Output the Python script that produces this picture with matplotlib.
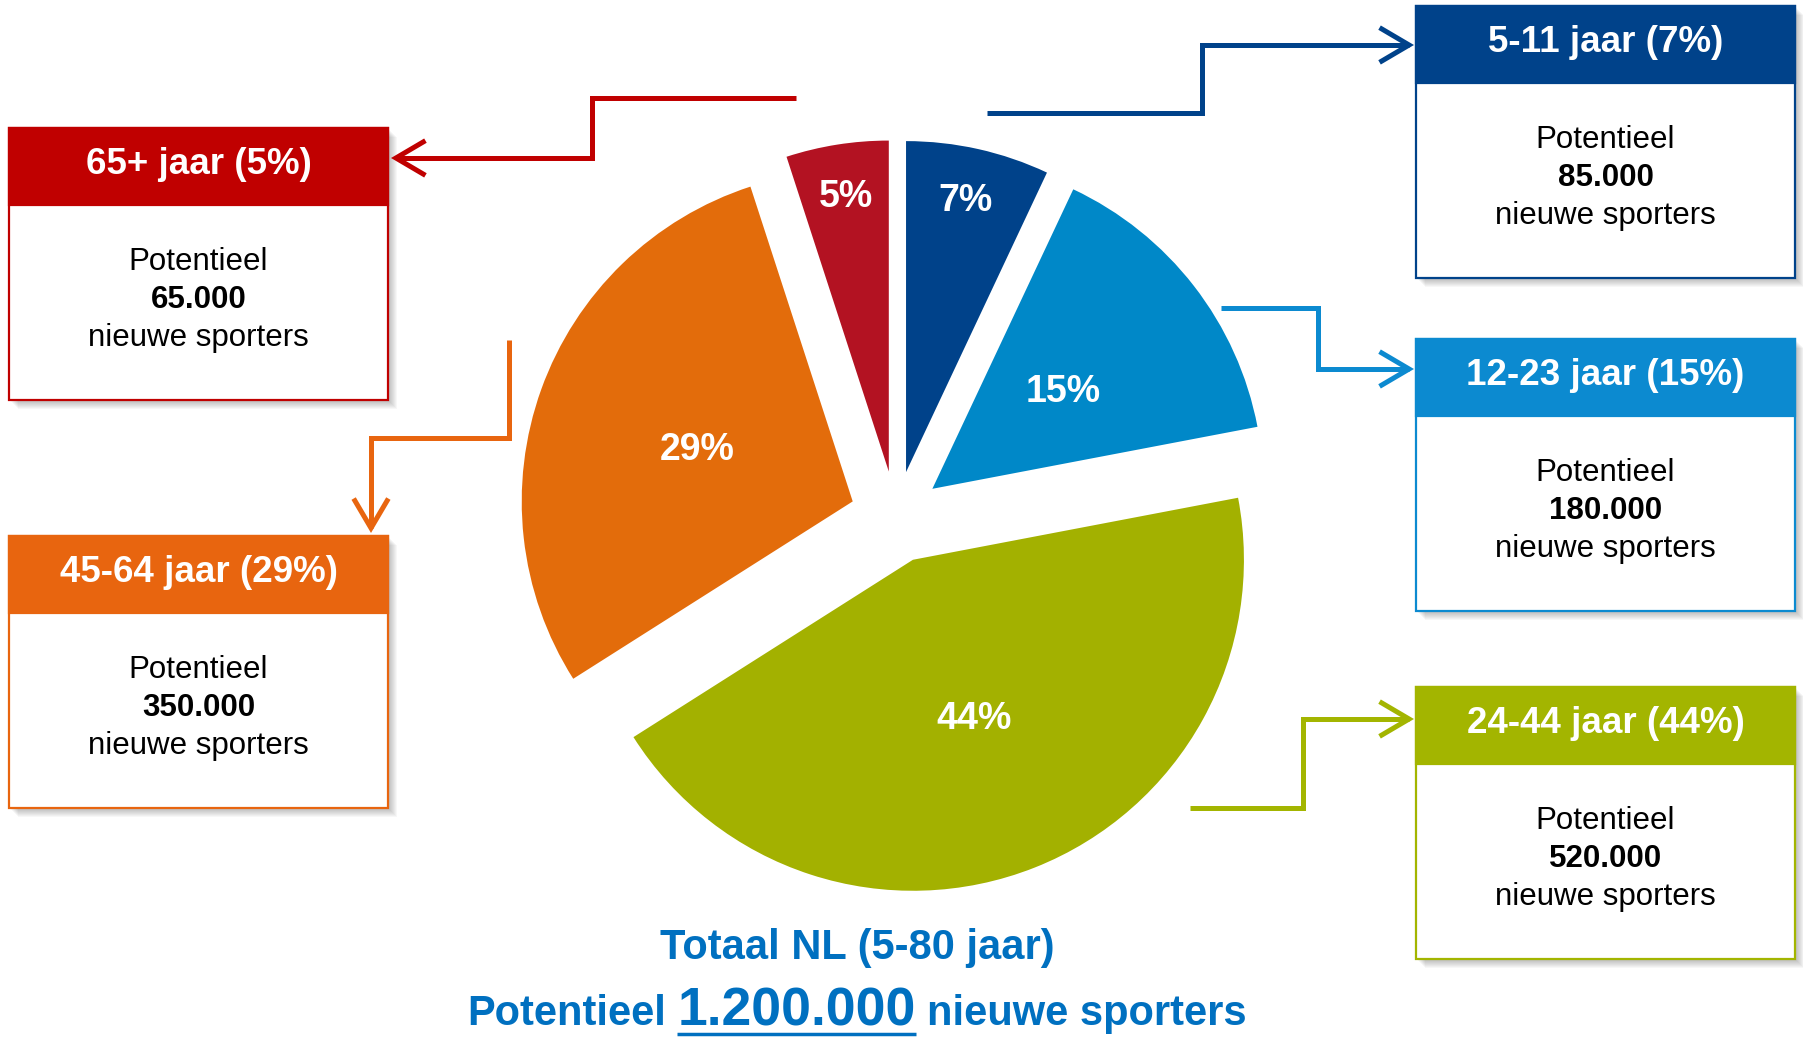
import numpy as np
import matplotlib.pyplot as plt
from matplotlib.patches import Rectangle, FancyArrowPatch, ArrowStyle
from matplotlib.path import Path

plt.rcParams['font.family'] = ['Liberation Sans', 'DejaVu Sans']

# data (clockwise from 12 o'clock)
groups = ['5-11', '12-23', '24-44', '45-64', '65+']
shares = [7, 15, 44, 29, 5]
potential = [85000, 180000, 520000, 350000, 65000]
total_potential = 1200000
title = 'Totaal NL (5-80 jaar)'

pie_colors = ['#00428A', '#0088C8', '#A3B100', '#E36C0B', '#B31222']
head_colors = ['#00428A', '#0C8AD0', '#A3B500', '#E8650F', '#C00000']
blue_txt = '#0070C0'

W, H = 1803, 1037
fig = plt.figure(figsize=(W / 100, H / 100), dpi=100)
ax = fig.add_axes([0, 0, 1, 1])


def Y(y):
    # layout measured top-down, axes run bottom-up
    return H - y


def nl(v):
    return f'{v:,}'.replace(',', '.')


# pie
R = 331
wedges, _ = ax.pie(shares, colors=pie_colors, startangle=90, counterclock=False,
                   radius=R, center=(896, Y(517)), explode=[46] * len(shares),
                   wedgeprops=dict(linewidth=0), frame=True)
for w, s in zip(wedges, shares):
    th = np.deg2rad((w.theta1 + w.theta2) / 2)
    # small slices get their label further out
    d, dy = (0.83, 3) if s < 10 else (0.5, -5)
    cx, cy = w.center
    ax.text(cx + d * R * np.cos(th), cy + d * R * np.sin(th) + dy, f'{s}%',
            color='white', fontsize=27, fontweight='bold', ha='center', va='center')

# info boxes (left, top) in pixels from top-left
box_pos = [(1416, 6), (1416, 339), (1416, 687), (9, 536), (9, 128)]
bw, bh, hh = 379, 272, 77

for g, s, p, (x0, t0), hc in zip(groups, shares, potential, box_pos, head_colors):
    for k in range(2, 10):
        ax.add_patch(Rectangle((x0 + k, Y(t0 + bh) - k), bw, bh, facecolor='black',
                               edgecolor='none', alpha=0.03, zorder=2))
    ax.add_patch(Rectangle((x0, Y(t0 + bh)), bw, bh, facecolor='white',
                           edgecolor=hc, lw=1.6, zorder=3))
    ax.add_patch(Rectangle((x0, Y(t0 + hh)), bw, hh, facecolor=hc,
                           edgecolor=hc, lw=1.6, zorder=4))
    xc = x0 + bw / 2
    ax.text(xc, Y(t0 + 46), f'{g} jaar ({s}%)', color='white', fontsize=26.5,
            fontweight='bold', ha='center', va='baseline', zorder=5)
    ax.text(xc, Y(t0 + hh + 65), 'Potentieel', fontsize=22.5, ha='center',
            va='baseline', zorder=5)
    ax.text(xc, Y(t0 + hh + 103), nl(p), fontsize=22.5, fontweight='bold',
            ha='center', va='baseline', zorder=5)
    ax.text(xc, Y(t0 + hh + 141), 'nieuwe sporters', fontsize=22.5, ha='center',
            va='baseline', zorder=5)

# elbow connectors from pie to boxes
connectors = [
    [(987, 113), (1202, 113), (1202, 45), (1414, 45)],
    [(1221, 308), (1318, 308), (1318, 369), (1414, 369)],
    [(1190, 808), (1303, 808), (1303, 719), (1414, 719)],
    [(509, 340), (509, 438), (371, 438), (371, 533)],
    [(796, 98), (592, 98), (592, 158), (391, 158)],
]
for pts, hc in zip(connectors, head_colors):
    path = Path([(x, Y(y)) for x, y in pts])
    arr = FancyArrowPatch(path=path, arrowstyle=ArrowStyle('->', head_length=0.85, head_width=0.5),
                          mutation_scale=25, color=hc, lw=3.6, joinstyle='miter',
                          capstyle='butt', zorder=6)
    ax.add_patch(arr)

# totals at the bottom
ax.text(857, Y(959), title, color=blue_txt, fontsize=30, fontweight='bold',
        ha='center', va='baseline')

fig.canvas.draw()
rend = fig.canvas.get_renderer()
pieces = [('Potentieel', 30), (nl(total_potential), 38.5), ('nieuwe sporters', 30)]
objs = [ax.text(0, Y(1025), t, color=blue_txt, fontsize=fs, fontweight='bold',
                ha='left', va='baseline') for t, fs in pieces]
widths = [o.get_window_extent(rend).width for o in objs]
space = 0.278 * 30 * 100 / 72
total_w = sum(widths) + 2 * space
x = 857 - total_w / 2
for i, (o, wd) in enumerate(zip(objs, widths)):
    o.set_x(x)
    if i == 1:
        ax.plot([x, x + wd], [Y(1034), Y(1034)], color=blue_txt, lw=2.5,
                solid_capstyle='butt')
    x += wd + space

ax.set_xlim(0, W)
ax.set_ylim(0, H)
ax.set_aspect('auto')
ax.axis('off')

fig.savefig('out.png', dpi=100, facecolor='white')
